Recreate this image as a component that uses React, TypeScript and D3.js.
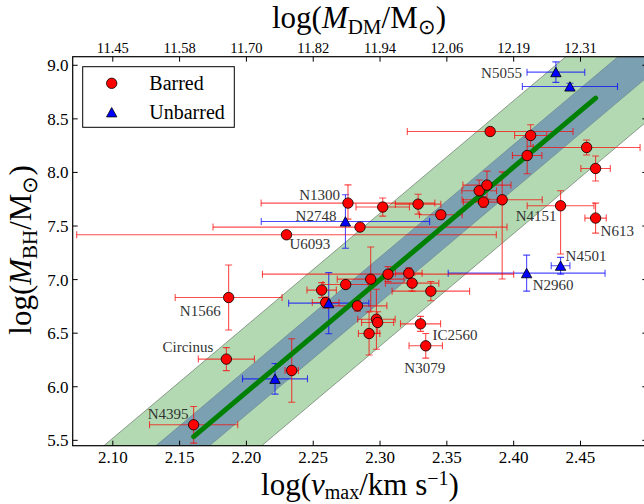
import * as d3 from "d3";

// barred galaxies (red circles)
const barredNames = [
  "N1300", "U6093", "", "", "", "", "", "", "", "", "", "", "", "", "", "N613", "N4151",
  "", "", "", "", "", "", "", "", "", "", "", "", "IC2560", "N3079", "N1566", "Circinus", "", "N4395",
];
const barredLogV = [
  2.276, 2.23, 2.285, 2.302, 2.3285, 2.3455, 2.3742, 2.38, 2.3774, 2.3914, 2.3824, 2.4127, 2.4101, 2.4546, 2.4613, 2.4613, 2.4351,
  2.306, 2.293, 2.3215, 2.324, 2.338, 2.2743, 2.2563, 2.2593, 2.2831, 2.2973, 2.2982, 2.2918, 2.3303, 2.3342, 2.1867, 2.185, 2.2339, 2.1605,
];
const barredLogM = [
  7.714, 7.418, 7.49, 7.677, 7.704, 7.605, 7.829, 7.882, 7.723, 7.745, 8.382, 8.345, 8.158, 8.233, 8.037, 7.574, 7.689,
  7.051, 7.004, 7.06, 6.967, 6.892, 6.954, 6.902, 6.786, 6.755, 6.63, 6.6, 6.497, 6.587, 6.382, 6.833, 6.258, 6.152, 5.645,
];
const barredVErr = [
  0.065, 0.157, 0.11, 0.02, 0.017, 0.016, 0.013, 0.018, 0.015, 0.03, 0.062, 0.012, 0.011, 0.04, 0.011, 0.008, 0.025,
  0.094, 0.025, 0.01, 0.02, 0.029, 0.017, 0.011, 0.01, 0.022, 0.014, 0.012, 0.008, 0.015, 0.0125, 0.04, 0.021, 0.005, 0.033,
];
const barredMErrLo = [
  0.15, 0, 0.03, 0.085, 0.093, 0.04, 0.1, 0.13, 0.05, 0.74, 0, 0.1, 0.17, 0.07, 0.117, 0.14, 0.45,
  0.07, 0.3, 0.05, 0.075, 0.09, 0.03, 0.07, 0.05, 0.05, 0.28, 0.1, 0.2, 0.07, 0.115, 0.303, 0.107, 0.296, 0.171,
];
const barredMErrHi = [
  0.17, 0, 0.03, 0.085, 0.093, 0.04, 0.1, 0.13, 0.05, 0.26, 0, 0.1, 0.17, 0.07, 0.117, 0.14, 0.14,
  0.07, 0.3, 0.05, 0.075, 0.09, 0.03, 0.07, 0.05, 0.05, 0.28, 0.1, 0.2, 0.07, 0.115, 0.303, 0.107, 0.296, 0.171,
];

// unbarred galaxies (blue triangles)
const unbarredNames = ["N2748", "N5055", "", "N2960", "N4501", "", ""];
const unbarredLogV = [2.2741, 2.4316, 2.4421, 2.4097, 2.4351, 2.2616, 2.2214];
const unbarredLogM = [7.542, 8.936, 8.802, 7.06, 7.129, 6.78, 6.074];
const unbarredVErr = [0.063, 0.0216, 0.0356, 0.0587, 0.007, 0.03, 0.0243];
const unbarredMErr = [0.25, 0.096, 0.03, 0.168, 0.078, 0.285, 0.143];

// axes
const xTicks = [2.1, 2.15, 2.2, 2.25, 2.3, 2.35, 2.4, 2.45];
const topTickLabels = ["11.45", "11.58", "11.70", "11.82", "11.94", "12.06", "12.19", "12.31"];
const yTicks = [5.5, 6.0, 6.5, 7.0, 7.5, 8.0, 8.5, 9.0];

// fit: log M = fitZero + fitSlope (log v - 2.30), bands of +-innerScatter and +-outerScatter
const fitSlope = 10.5;
const fitZero = 7.0;
const innerScatter = 0.21;
const outerScatter = 0.62;

// label placement relative to each marker (px)
const labelOffsets: Record<string, [number, number, string]> = {
  N1300: [-8, -3, "end"],
  N2748: [-9, -1, "end"],
  U6093: [3, 14, "start"],
  N5055: [-34, 6, "end"],
  N4151: [-4, 15, "end"],
  N613: [5, 18, "start"],
  N4501: [5, -5, "start"],
  N2960: [6, 17, "start"],
  IC2560: [12, 16, "start"],
  N3079: [-1, 27, "middle"],
  N1566: [-8, 19, "end"],
  Circinus: [-13, -7, "end"],
  N4395: [-5, -6, "end"],
};

const left = 72.7, right = 647.3, top = 56.7, bottom = 445.7;
const serif = "'Liberation Serif', 'Times New Roman', serif";

type Pt = { name: string; v: number; m: number; ve: number; lo: number; hi: number };

const barred: Pt[] = barredNames.map((name, i) => ({
  name, v: barredLogV[i], m: barredLogM[i], ve: barredVErr[i], lo: barredMErrLo[i], hi: barredMErrHi[i],
}));
const unbarred: Pt[] = unbarredNames.map((name, i) => ({
  name, v: unbarredLogV[i], m: unbarredLogM[i], ve: unbarredVErr[i], lo: unbarredMErr[i], hi: unbarredMErr[i],
}));

const fit = (v: number) => fitZero + fitSlope * (v - 2.3);

function ErrorBars({ d, x, y, color }: { d: Pt; x: d3.ScaleLinear<number, number>; y: d3.ScaleLinear<number, number>; color: string }) {
  const cx = x(d.v), cy = y(d.m);
  const cap = 3.5;
  const parts = [];
  if (d.ve > 0) {
    const x0 = x(d.v - d.ve), x1 = x(d.v + d.ve);
    parts.push(<line key="h" x1={x0} x2={x1} y1={cy} y2={cy} />);
    parts.push(<line key="hc0" x1={x0} x2={x0} y1={cy - cap} y2={cy + cap} />);
    parts.push(<line key="hc1" x1={x1} x2={x1} y1={cy - cap} y2={cy + cap} />);
  }
  if (d.lo > 0 || d.hi > 0) {
    const y0 = y(d.m - d.lo), y1 = y(d.m + d.hi);
    parts.push(<line key="v" x1={cx} x2={cx} y1={y0} y2={y1} />);
    parts.push(<line key="vc0" x1={cx - cap} x2={cx + cap} y1={y0} y2={y0} />);
    parts.push(<line key="vc1" x1={cx - cap} x2={cx + cap} y1={y1} y2={y1} />);
  }
  return <g stroke={color} strokeWidth={1.1} strokeOpacity={0.7}>{parts}</g>;
}

const triangle = "M0,-4.8L5.2,4.6L-5.2,4.6Z";

export default function App() {
  const x = d3.scaleLinear().domain([2.07, 2.5]).range([left, right]);
  const y = d3.scaleLinear().domain([5.45, 9.08]).range([bottom, top]);

  const bandX = [2.0, 2.6];
  const band = (w: number) =>
    d3.area<number>().x((v) => x(v)).y0((v) => y(fit(v) - w)).y1((v) => y(fit(v) + w))(bandX) ?? "";
  const edge = (w: number) => d3.line<number>().x((v) => x(v)).y((v) => y(fit(v) + w))(bandX) ?? "";

  const allV = [...barredLogV, ...unbarredLogV];
  const fitX = d3.extent(allV) as [number, number];
  const fitPath = d3.line<number>().x((v) => x(v)).y((v) => y(fit(v)))(fitX) ?? "";

  const labelled = [...barred, ...unbarred].filter((d) => d.name);

  return (
    <svg width={644} height={504} style={{ position: "absolute", left: 0, top: 0, background: "#fff" }} fontFamily={serif}>
      <defs>
        <clipPath id="plot">
          <rect x={left} y={top} width={right - left} height={bottom - top} />
        </clipPath>
      </defs>
      <rect width={644} height={504} fill="#fff" />
      <g clipPath="url(#plot)">
        <path d={band(outerScatter)} fill="rgb(178,217,178)" />
        <path d={band(innerScatter)} fill="rgb(122,160,177)" />
        {[outerScatter, -outerScatter].map((w) => (
          <path key={w} d={edge(w)} fill="none" stroke="#8a9a8a" strokeWidth={1} />
        ))}
        {[innerScatter, -innerScatter].map((w) => (
          <path key={w} d={edge(w)} fill="none" stroke="#6f8c99" strokeWidth={0.8} />
        ))}
        {unbarred.map((d, i) => <ErrorBars key={"ue" + i} d={d} x={x} y={y} color="blue" />)}
        {barred.map((d, i) => <ErrorBars key={"be" + i} d={d} x={x} y={y} color="red" />)}
        <path d={fitPath} fill="none" stroke="green" strokeWidth={5} strokeLinecap="round" />
        {barred.map((d, i) => (
          <circle key={"b" + i} cx={x(d.v)} cy={y(d.m)} r={5.2} fill="red" stroke="#000" strokeWidth={0.8} />
        ))}
        {unbarred.map((d, i) => (
          <path key={"u" + i} d={triangle} transform={`translate(${x(d.v)},${y(d.m)})`} fill="blue" stroke="#000" strokeWidth={0.8} />
        ))}
        {labelled.map((d) => {
          const [dx, dy, anchor] = labelOffsets[d.name];
          return (
            <text key={d.name} x={x(d.v) + dx} y={y(d.m) + dy} textAnchor={anchor} fontSize={15} fill="#333">
              {d.name}
            </text>
          );
        })}
      </g>

      {/* frame */}
      <rect x={left} y={top} width={right - left} height={bottom - top} fill="none" stroke="#000" strokeWidth={1.2} />

      {/* ticks */}
      <g stroke="#000" strokeWidth={1}>
        {xTicks.map((t) => (
          <g key={t}>
            <line x1={x(t)} x2={x(t)} y1={bottom} y2={bottom - 5} />
            <line x1={x(t)} x2={x(t)} y1={top} y2={top + 5} />
          </g>
        ))}
        {yTicks.map((t) => (
          <g key={t}>
            <line x1={left} x2={left + 5} y1={y(t)} y2={y(t)} />
            <line x1={right} x2={right - 5} y1={y(t)} y2={y(t)} />
          </g>
        ))}
      </g>
      <g fontSize={17} fill="#000" textAnchor="middle">
        {xTicks.map((t) => (
          <text key={t} x={x(t)} y={463}>{d3.format(".2f")(t)}</text>
        ))}
      </g>
      <g fontSize={14.5} fill="#000" textAnchor="middle">
        {xTicks.map((t, i) => (
          <text key={t} x={x(t)} y={52.7}>{topTickLabels[i]}</text>
        ))}
      </g>
      <g fontSize={17} fill="#000" textAnchor="end">
        {yTicks.map((t) => (
          <text key={t} x={68.5} y={y(t) + 6}>{d3.format(".1f")(t)}</text>
        ))}
      </g>

      {/* axis titles */}
      <text x={360} y={495} textAnchor="middle" fontSize={31}>
        log(<tspan fontStyle="italic">v</tspan>
        <tspan fontSize={20} dy={4}>max</tspan>
        <tspan dy={-4}>/km s</tspan>
        <tspan fontSize={20} dy={-10}>−1</tspan>
        <tspan dy={10}>)</tspan>
      </text>
      <text x={359} y={28} textAnchor="middle" fontSize={31}>
        log(<tspan fontStyle="italic">M</tspan>
        <tspan fontSize={21} dy={6}>DM</tspan>
        <tspan dy={-6}>/M</tspan>
        <tspan fontSize={21} dy={6}>⊙</tspan>
        <tspan dy={-6}>)</tspan>
      </text>
      <text transform="translate(31,250) rotate(-90)" textAnchor="middle" fontSize={31}>
        log(<tspan fontStyle="italic">M</tspan>
        <tspan fontSize={21} dy={6}>BH</tspan>
        <tspan dy={-6}>/M</tspan>
        <tspan fontSize={21} dy={6}>⊙</tspan>
        <tspan dy={-6}>)</tspan>
      </text>

      {/* legend */}
      <g>
        <rect x={82.7} y={66.7} width={151.6} height={60.6} fill="#fff" stroke="#000" strokeWidth={1} />
        <circle cx={111.7} cy={83.3} r={5.2} fill="red" stroke="#000" strokeWidth={0.8} />
        <path d={triangle} transform="translate(111.7,112.3)" fill="blue" stroke="#000" strokeWidth={0.8} />
        <text x={149.3} y={90} fontSize={20}>Barred</text>
        <text x={149.3} y={119} fontSize={20}>Unbarred</text>
      </g>
    </svg>
  );
}
